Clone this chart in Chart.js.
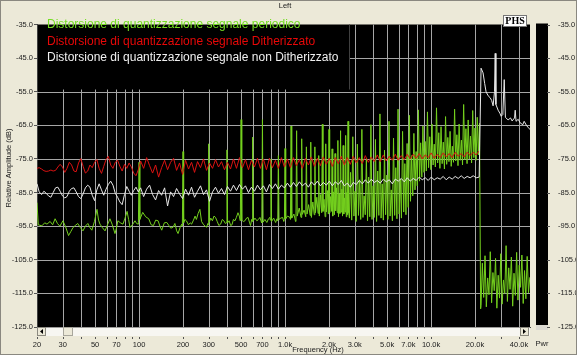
<!DOCTYPE html>
<html>
<head>
<meta charset="utf-8">
<script src="https://cdn.jsdelivr.net/npm/chart.js@4.4.1/dist/chart.umd.min.js"></script>
<style>
  html, body { margin: 0; padding: 0; background: #ece9d8; }
  #wrap { width: 577px; height: 355px; }
</style>
</head>
<body>
<div id="wrap"><canvas id="spectrum"></canvas></div>
<script>
// frequency grid lines and the labels printed under them
const freqTicks = [20, 30, 40, 50, 60, 70, 80, 90, 100, 200, 300, 400, 500, 600, 700, 800, 900,
  1000, 2000, 3000, 4000, 5000, 6000, 7000, 8000, 9000, 10000, 20000, 30000, 40000];
const freqLabels = ['20', '30', '', '50', '', '70', '', '', '100', '200', '300', '', '500', '', '700', '', '',
  '1.0k', '2.0k', '3.0k', '', '5.0k', '', '7.0k', '', '', '10.0k', '20.0k', '', '40.0k'];

// frequencies (Hz) shared by the dithered / non dithered traces
const noiseHz = [
  20, 20.7, 21.5, 22.3, 23.1, 24, 24.9, 25.8, 26.8, 27.8,
  28.8, 29.9, 31, 32.1, 33.3, 34.5, 35.8, 37.1, 38.5, 39.9,
  41.4, 42.9, 44.5, 46.1, 47.8, 49.6, 51.4, 53.3, 55.3, 57.3,
  59.4, 61.6, 63.9, 66.3, 68.7, 71.3, 73.9, 76.6, 79.5, 82.4,
  85.5, 88.6, 91.9, 95.3, 98.8,
  102.5, 107.5, 112.7, 118.1, 123.8, 129.8, 136.1, 142.7, 149.6, 156.8,
  164.4, 172.4, 180.7, 189.4, 198.6, 208.2, 218.3, 228.8, 239.9, 251.5,
  263.6, 276.4, 289.8, 303.8, 318.5, 333.9, 350, 367, 384.7, 403.3,
  422.9, 443.3, 464.8, 487.3, 510.8, 535.6, 561.5, 588.6, 617.1, 647,
  678.3, 711.1, 745.5, 781.6, 819.4, 859, 900.6, 944.2, 989.9, 1038,
  1088, 1141, 1196, 1254, 1314, 1378, 1445, 1515, 1588, 1665,
  1745, 1830, 1918, 2011, 2108, 2210, 2317, 2429, 2547, 2670,
  2799, 2935, 3077, 3225, 3382, 3545, 3717, 3897, 4085, 4283,
  4490, 4707, 4935, 5174, 5424, 5687, 5962, 6250, 6553, 6870,
  7202, 7551, 7916, 8299, 8701, 9122, 9563, 10026, 10511, 11020,
  11553, 12112, 12698, 13312, 13956, 14632, 15340, 16082, 16860, 17676,
  18531, 19428, 20368, 21354
];

// red: dithered signal (dB)
const ditheredDb = [
  -77.8, -77.6, -78.0, -78.5, -78.7, -78.6, -78.3, -78.6, -78.4, -77.4,
  -76.6, -77.4, -79.0, -77.8, -76.0, -76.8, -78.6, -78.8, -76.2, -74.9,
  -77.2, -79.2, -78.6, -76.8, -77.6, -76.0, -75.2, -77.8, -79.3, -77.2,
  -75.2, -74.2, -76.8, -77.8, -76.0, -75.4, -77.2, -78.6, -76.6, -77.8,
  -76.2, -77.4, -79.2, -80.0, -78.2,
  -75.6, -77.8, -74.6, -77.0, -79.2, -76.8, -80.4, -77.6, -75.4, -78.2,
  -76.0, -74.8, -78.4, -76.2, -79.6, -75.4, -78.0, -76.0, -79.0, -75.8,
  -77.6, -75.0, -78.4, -76.2, -77.8, -75.2, -77.4, -75.8, -78.2, -76.0,
  -78.0, -75.0, -77.8, -74.6, -77.6, -75.2, -78.2, -75.4, -77.4, -74.8,
  -77.8, -75.0, -78.2, -74.8, -77.6, -75.4, -77.8, -74.6, -77.4, -75.0,
  -77.6, -74.6, -77.0, -75.2, -77.8, -74.8, -76.8, -74.4, -77.2, -74.8,
  -77.0, -74.4, -76.6, -74.8, -77.2, -74.6, -76.4, -74.2, -76.8, -74.6,
  -76.6, -74.2, -76.2, -74.6, -76.4, -74.0, -76.0, -74.4, -75.8, -73.8,
  -75.8, -73.8, -75.6, -74.2, -75.4, -73.6, -75.4, -74.0, -75.2, -73.6,
  -75.0, -73.6, -74.8, -73.4, -75.0, -73.8, -74.6, -73.2, -74.8, -73.6,
  -74.6, -73.2, -74.4, -73.4, -74.6, -73.0, -74.2, -73.4, -74.4, -73.0,
  -74.0, -73.0, -73.8, -72.6
];

// white: non dithered signal (dB)
const plainDb = [
  -82.4, -84.8, -85.6, -84.6, -85.2, -86.0, -86.4, -85.0, -83.6, -83.4,
  -84.6, -86.0, -86.6, -86.2, -84.6, -83.8, -83.6, -84.8, -86.2, -86.8,
  -85.4, -83.6, -82.8, -83.4, -85.8, -87.4, -84.2, -82.4, -84.2, -85.8,
  -84.0, -82.6, -81.6, -82.8, -85.2, -86.4, -87.8, -88.6, -85.6, -83.2,
  -84.6, -85.8, -84.4, -83.4, -84.8,
  -83.6, -86.2, -84.0, -82.8, -85.6, -87.2, -84.4, -85.8, -83.6, -89.0,
  -84.8, -86.2, -83.8, -85.4, -86.8, -84.0, -85.8, -83.4, -86.4, -84.6,
  -83.0, -85.6, -84.2, -87.6, -84.8, -83.4, -85.2, -83.8, -85.6, -83.2,
  -84.6, -82.8, -84.4, -82.6, -84.0, -83.0, -85.0, -83.4, -84.6, -82.8,
  -84.2, -83.0, -84.8, -82.6, -83.8, -82.4, -84.0, -82.8, -83.6, -82.2,
  -83.4, -82.0, -83.2, -81.8, -83.0, -82.2, -83.4, -81.8, -82.8, -81.6,
  -83.0, -82.0, -82.8, -81.6, -83.0, -81.8, -82.6, -81.4, -83.0, -82.2,
  -83.4, -82.0, -82.6, -81.4, -82.4, -81.2, -82.2, -81.0, -82.0, -81.4,
  -82.2, -81.0, -81.8, -81.2, -82.4, -81.0, -81.6, -80.8, -81.8, -80.6,
  -81.6, -80.8, -81.4, -80.4, -81.2, -80.6, -81.4, -80.4, -81.2, -80.6,
  -81.0, -80.2, -81.2, -80.4, -81.0, -80.2, -80.8, -80.0, -80.8, -80.2,
  -80.6, -80.0, -80.6, -80.4
];

// white above the cut-off [Hz, dB]
const plainTail = [
  [22000, -48.0], [22700, -49.4], [23300, -52.6], [23800, -55.0], [24600, -56.2], [25400, -56.8],
  [26000, -57.6], [26600, -59.2], [27200, -55.0], [27500, -43.6], [27800, -58.8], [28800, -60.5],
  [29600, -61.4], [30200, -62.3], [31000, -61.8], [31700, -51.4], [32300, -62.6], [33700, -63.4],
  [35000, -62.8], [35900, -63.7], [37300, -62.8], [37700, -60.5], [38200, -63.8], [39500, -63.2],
  [40800, -64.3], [42500, -64.8], [43400, -63.8], [45000, -65.0], [46300, -65.7], [47600, -66.2]
];

// green: periodic signal [Hz, dB]
const periodic = [
  [20, -88.0], [20.4, -94.6], [21.6, -94.9], [22.6, -94.0], [23.4, -94.4], [24.6, -93.6], [25.6, -94.6],
  [26.6, -92.8], [27.6, -94.2], [28.7, -95.0], [30.1, -93.4], [31.4, -95.2], [32.9, -97.8], [34.1, -96.6],
  [35.3, -95.4], [36.6, -94.8], [38, -94.2], [39.6, -95.4], [41.3, -96.4], [42.9, -95.0], [44.6, -94.2],
  [46, -95.4], [47.5, -96.2], [49.5, -93.6], [51.5, -90.0], [52.8, -93.2], [54, -94.4], [56, -95.4],
  [58.5, -96.4], [60.8, -94.6], [63.2, -92.8], [65.6, -94.6], [68.4, -97.2], [70, -95.6], [71.6, -93.4],
  [74.5, -94.0], [77.6, -94.4], [80.2, -92.6], [82.8, -90.6], [84.8, -93.0], [86.7, -95.4], [90, -94.6],
  [93.8, -93.4], [96.2, -94.2], [98.6, -94.4],
  [99, -94.0], [100, -76.0], [101.2, -93.0],
  [106, -90.9], [111, -92.2], [116.5, -92.8], [121, -94.6], [125.5, -94.8], [130, -93.2], [135, -93.4],
  [139, -95.0], [143, -96.2], [149, -94.0], [155, -93.9], [160, -94.8], [165, -95.6], [171, -95.3],
  [176, -94.2], [181, -96.4], [185, -97.2], [191, -95.4], [196, -94.4],
  [198, -95.0], [200, -72.8], [202, -94.0],
  [206, -93.0], [211, -93.4], [218, -94.6], [224, -94.0], [229, -94.4], [236, -93.2], [242, -92.0],
  [247, -93.0], [254, -91.2], [261, -90.0], [268, -93.6], [275, -94.4], [283, -95.0], [290, -95.3], [296, -94.2],
  [297, -94.6], [300, -70.5], [303, -93.8],
  [310, -92.6], [318, -93.4], [326, -92.0], [334, -92.4], [343, -93.6], [352, -94.8], [362, -94.4],
  [372, -93.0], [381, -93.4], [390, -94.2], [396, -94.0],
  [400, -72.3], [404, -94.0],
  [414, -93.4], [424, -94.8], [433, -94.6], [443, -93.0], [454, -93.4], [464, -92.4], [476, -91.0], [486, -92.0], [494, -93.4],
  [500, -63.3], [505, -93.2],
  [518, -93.6], [531, -93.4], [545, -92.6], [558, -92.4], [570, -93.8], [580, -94.8], [590, -93.0], [594, -93.6],
  [600, -68.5], [606, -93.4], [622, -92.6], [641, -93.4], [657, -93.0], [673, -92.4], [686, -93.6], [693, -94.0],
  [700, -63.3], [707, -93.8], [728, -93.0], [750, -93.9], [770, -92.8], [788, -92.4], [792, -93.2],
  [800, -75.0], [808, -93.6], [835, -92.6], [862, -93.9], [880, -92.8], [891, -93.4],
  [900, -74.0], [909, -93.0], [935, -92.6], [962, -92.4], [980, -93.6], [990, -93.0],
  [1000, -71.9], [1010, -92.8], [1040, -92.0], [1080, -92.4], [1089, -93.0],
  [1100, -65.2], [1111, -92.6], [1150, -91.4], [1180, -93.6],
  [1188, -92.6], [1200, -66.6], [1212, -92.0], [1250, -89.6],
  [1287, -92.4], [1300, -69.0], [1313, -91.5], [1350, -90.2],
  [1386, -92.2], [1400, -71.4], [1414, -91.4], [1450, -88.6],
  [1485, -91.8], [1500, -70.0], [1515, -92.4], [1550, -87.8],
  [1584, -91.6], [1600, -71.4], [1616, -91.0], [1650, -86.4],
  [1683, -91.2], [1700, -74.0], [1717, -92.0], [1750, -85.6],
  [1782, -91.0], [1800, -64.7], [1818, -90.6], [1850, -87.0],
  [1881, -92.2], [1900, -70.5], [1919, -90.8], [1950, -84.4],
  [1980, -91.4], [2000, -66.2], [2020, -91.0], [2050, -86.2],
  [2079, -90.6], [2100, -72.0], [2121, -92.0], [2150, -84.8],
  [2178, -91.6], [2200, -73.4], [2222, -90.4], [2250, -83.6],
  [2277, -91.0], [2300, -69.5], [2323, -92.2], [2350, -85.4],
  [2376, -91.2], [2400, -66.6], [2424, -90.8], [2450, -84.0],
  [2475, -92.0], [2500, -71.0], [2525, -91.4], [2550, -86.6],
  [2574, -90.8], [2600, -68.0], [2626, -92.2], [2650, -85.0],
  [2673, -91.6], [2700, -63.8], [2727, -91.0],
  // dense harmonics, floor near -93 dB
  [2760, -92.6], [2810, -79.0], [2860, -93.2], [2911, -68.4], [2964, -92.0], [3017, -84.6], [3071, -93.6],
  [3127, -70.6], [3183, -91.8], [3240, -81.2], [3298, -93.0], [3358, -66.2], [3418, -92.4], [3480, -86.0],
  [3542, -91.6], [3606, -74.8], [3671, -93.4], [3737, -80.4], [3804, -92.2], [3873, -64.8], [3942, -93.0],
  [4013, -83.0], [4085, -92.4], [4159, -69.2], [4234, -93.6], [4310, -78.6], [4388, -91.8], [4466, -61.6],
  [4547, -92.6], [4629, -82.4], [4712, -93.2], [4797, -72.4], [4883, -91.6], [4971, -79.8], [5060, -93.0],
  [5151, -63.8], [5244, -92.0], [5338, -84.2], [5434, -93.4], [5532, -68.8], [5632, -91.8], [5733, -77.6],
  [5836, -92.8], [5941, -60.2], [6048, -91.4], [6157, -81.0], [6268, -92.6], [6381, -66.8], [6496, -90.8],
  [6612, -76.4], [6731, -91.6], [6853, -70.4], [6976, -89.4], [7101, -62.0],
  // floor rises towards -76 dB above 8 kHz
  [7229, -87.6], [7359, -74.0], [7492, -86.0], [7627, -67.4], [7764, -84.2], [7904, -72.8], [8046, -83.0],
  [8191, -60.4], [8338, -81.6], [8488, -70.2], [8641, -80.4], [8796, -65.2], [8955, -79.0], [9116, -69.8],
  [9280, -78.6], [9447, -61.0], [9617, -77.6], [9790, -68.4], [9966, -78.2], [10146, -64.6], [10328, -76.8],
  [10514, -70.6], [10703, -77.4], [10896, -59.8], [11092, -76.2], [11292, -67.2], [11495, -77.8], [11702, -65.4],
  [11913, -76.4], [12127, -70.0], [12345, -78.0], [12567, -62.4], [12794, -76.6], [13024, -68.6], [13258, -75.8],
  [13497, -66.8], [13740, -77.2], [13987, -71.2], [14239, -76.0], [14495, -60.2], [14756, -75.6], [15022, -67.8],
  [15292, -77.0], [15567, -64.6], [15848, -75.4], [16133, -69.4], [16423, -76.8], [16719, -58.8], [17020, -75.2],
  [17326, -66.0], [17638, -76.4], [17956, -63.4], [18279, -75.0], [18608, -68.2], [18943, -76.2], [19284, -60.6],
  [19631, -74.6], [19984, -65.8], [20344, -75.4], [20710, -62.6], [21083, -73.8], [21462, -64.4],
  // above the anti-alias cut-off
  [21850, -119.6],
  [22000, -118.6], [22460, -106.0], [22930, -116.2], [23420, -103.8], [23910, -119.0], [24410, -110.4],
  [24920, -115.4], [25440, -102.6], [25980, -117.8], [26520, -108.8], [27080, -114.2], [27650, -104.6],
  [28230, -119.4], [28820, -109.6], [29430, -116.4], [30040, -103.2], [30670, -118.2], [31320, -111.0],
  [31980, -115.0], [32650, -100.8], [33330, -117.4], [34030, -107.4], [34750, -113.8], [35480, -104.2],
  [36220, -118.8], [36980, -109.0], [37760, -115.6], [38550, -102.8], [39360, -117.0], [40190, -106.6],
  [41030, -113.2], [41890, -103.6], [42770, -118.0], [43670, -108.2], [44590, -116.6], [45520, -104.0],
  [46480, -114.8], [47450, -110.2]
];

const seriesNames = [
  'Distorsione di quantizzazione segnale periodico',
  'Distorsione di quantizzazione segnale Ditherizzato',
  'Distorsione di quantizzazione segnale non Ditherizzato'
];

const FONT = "'Liberation Sans', Arial, sans-serif";
Chart.defaults.font.family = FONT;

const pairs = list => list.map(([x, y]) => ({ x, y }));
const zipped = (hz, db) => hz.map((f, i) => ({ x: f, y: db[i] }));

// size of the legend panel in the top-left corner of the plot
const LEGEND_W = 312, LEGEND_H = 65;

// window decorations: black plot, grid, legend, logo, scrollbar, meter, captions
const frame = {
  id: 'frame',
  beforeDraw(chart) {
    const { ctx, chartArea: a } = chart;
    ctx.save();
    ctx.fillStyle = '#ece9d8';
    ctx.fillRect(0, 0, chart.width, chart.height);
    ctx.fillStyle = '#000';
    ctx.fillRect(a.left, a.top, a.right - a.left, a.bottom - a.top);
    ctx.restore();
  },
  beforeDatasetsDraw(chart) {
    // grid lines from the scales' ticks, kept out of the legend panel
    const { ctx, chartArea: a } = chart;
    const xs = chart.scales.x, ys = chart.scales.y;
    const boxRight = a.left + LEGEND_W, boxBottom = a.top + LEGEND_H;
    ctx.save();
    ctx.strokeStyle = '#a6a6a6';
    ctx.lineWidth = 1;
    ctx.beginPath();
    xs.ticks.forEach(t => {
      const px = Math.round(xs.getPixelForValue(t.value)) + 0.5;
      if (px <= a.left + 1 || px >= a.right - 1) return;
      ctx.moveTo(px, px < boxRight ? boxBottom : a.top);
      ctx.lineTo(px, a.bottom);
    });
    ys.ticks.forEach(t => {
      const py = Math.round(ys.getPixelForValue(t.value)) + 0.5;
      if (py <= a.top + 1 || py >= a.bottom - 1) return;
      ctx.moveTo(py < boxBottom ? boxRight : a.left, py);
      ctx.lineTo(a.right, py);
    });
    ctx.stroke();
    // legend panel edge
    ctx.strokeStyle = '#404040';
    ctx.beginPath();
    ctx.moveTo(boxRight + 0.5, a.top);
    ctx.lineTo(boxRight + 0.5, boxBottom);
    ctx.stroke();
    ctx.restore();
  },
  afterDraw(chart) {
    const { ctx, chartArea: a } = chart;
    const xs = chart.scales.x, ys = chart.scales.y;
    ctx.save();

    // legend text
    ctx.font = '12px ' + FONT;
    ctx.textBaseline = 'middle';
    ctx.textAlign = 'left';
    const legendColors = ['rgb(118,222,36)', 'rgb(232,8,8)', 'rgb(240,240,240)'];
    chart.data.datasets.forEach((ds, i) => {
      ctx.fillStyle = legendColors[i];
      ctx.fillText(ds.label, 47, 25 + i * 16.3);
    });

    // logo
    ctx.fillStyle = '#fff';
    ctx.fillRect(503, 15, 24, 12);
    ctx.strokeStyle = '#777';
    ctx.strokeRect(503.5, 15.5, 23, 11);
    ctx.fillStyle = '#000';
    ctx.font = "bold 10px 'Liberation Serif', serif";
    ctx.textAlign = 'center';
    ctx.fillText('PHS', 515, 21.5);

    // scrollbar under the plot
    ctx.fillStyle = '#f7f6f1';
    ctx.fillRect(a.left, a.bottom + 0.5, a.right - a.left, 8.5);
    ctx.strokeStyle = '#8c8a80';
    const button = (x, dir) => {
      ctx.fillStyle = '#ece9d8';
      ctx.fillRect(x, a.bottom + 0.5, 9, 8);
      ctx.strokeRect(x + 0.5, a.bottom + 0.5, 8, 8);
      ctx.fillStyle = '#000';
      ctx.beginPath();
      const cy = a.bottom + 4.5, cx = x + 4.5;
      ctx.moveTo(cx - dir * 1.5, cy);
      ctx.lineTo(cx + dir * 1.5, cy - 2.5);
      ctx.lineTo(cx + dir * 1.5, cy + 2.5);
      ctx.closePath();
      ctx.fill();
    };
    button(a.left, 1);
    button(a.right - 10, -1);
    ctx.fillStyle = '#ece9d8';
    ctx.fillRect(63, a.bottom + 0.5, 10, 8);
    ctx.strokeStyle = '#a8a69c';
    ctx.strokeRect(63.5, a.bottom + 0.5, 9, 8);

    // small frequency tick marks
    ctx.strokeStyle = '#555';
    ctx.beginPath();
    freqTicks.forEach(f => {
      const px = Math.round(xs.getPixelForValue(f)) + 0.5;
      ctx.moveTo(px, a.bottom + 10);
      ctx.lineTo(px, a.bottom + 12);
    });
    ctx.stroke();

    // power meter on the right
    ctx.fillStyle = '#000';
    ctx.fillRect(536, a.top - 1, 12, a.bottom - a.top - 1);
    ctx.fillStyle = '#dcdad2';
    ctx.fillRect(536, a.bottom - 2, 12, 5);
    ctx.strokeStyle = '#555';
    ctx.beginPath();
    ys.ticks.forEach(t => {
      const py = Math.round(ys.getPixelForValue(t.value)) + 0.5;
      ctx.moveTo(547, py);
      ctx.lineTo(550, py);
    });
    ctx.stroke();

    // captions
    ctx.fillStyle = '#222';
    ctx.font = '7.5px ' + FONT;
    ctx.textAlign = 'center';
    ctx.textBaseline = 'middle';
    ctx.fillText('Left', 285, 5.5);
    ctx.fillText('Frequency (Hz)', 318, 350);
    ctx.fillText('Pwr', 542, 343.5);
    ctx.translate(8.5, 168);
    ctx.rotate(-Math.PI / 2);
    ctx.fillText('Relative Amplitude (dB)', 0, 0);
    ctx.restore();

    // window frame
    ctx.save();
    ctx.strokeStyle = '#8a8880';
    ctx.strokeRect(0.5, 0.5, chart.width - 1, chart.height - 1);
    ctx.restore();
  }
};

const tickFont = { size: 7.5, family: FONT };

new Chart(document.getElementById('spectrum'), {
  type: 'line',
  data: {
    datasets: [{
      label: seriesNames[0],
      data: pairs(periodic),
      borderColor: 'rgb(116,208,30)',
      order: 3
    }, {
      label: seriesNames[1],
      data: zipped(noiseHz, ditheredDb),
      borderColor: 'rgb(218,18,18)',
      order: 2
    }, {
      label: seriesNames[2],
      data: zipped(noiseHz, plainDb).concat(pairs(plainTail)),
      borderColor: 'rgb(232,232,232)',
      order: 1
    }]
  },
  options: {
    responsive: true,
    maintainAspectRatio: false,
    animation: false,
    layout: { padding: { top: 13, left: 0, right: 0, bottom: 0 } },
    elements: {
      point: { radius: 0 },
      line: { borderWidth: 1, tension: 0 }
    },
    plugins: {
      legend: { display: false },
      tooltip: { enabled: false }
    },
    scales: {
      x: {
        type: 'logarithmic',
        min: 20,
        max: 47600,
        afterBuildTicks: scale => { scale.ticks = freqTicks.map(v => ({ value: v })); },
        afterFit: scale => { scale.height = 28; },
        grid: { drawOnChartArea: false, drawTicks: false },
        border: { color: '#404040' },
        ticks: {
          autoSkip: false,
          maxRotation: 0,
          padding: 13,
          color: '#222',
          font: tickFont,
          callback: value => freqLabels[freqTicks.indexOf(value)] || ''
        }
      },
      y: {
        min: -125,
        max: -35,
        afterFit: scale => { scale.width = 37; },
        grid: { drawOnChartArea: false, tickLength: 3, tickColor: '#555' },
        border: { color: '#404040' },
        ticks: {
          stepSize: 10,
          padding: 1,
          color: '#222',
          font: tickFont,
          callback: value => value.toFixed(1)
        }
      },
      y2: {
        position: 'right',
        min: -125,
        max: -35,
        afterFit: scale => { scale.width = 47; },
        grid: { display: false },
        border: { display: false },
        ticks: {
          stepSize: 10,
          padding: 20,
          color: '#222',
          font: tickFont,
          callback: value => value.toFixed(1)
        }
      }
    }
  },
  plugins: [frame]
});
</script>
</body>
</html>
